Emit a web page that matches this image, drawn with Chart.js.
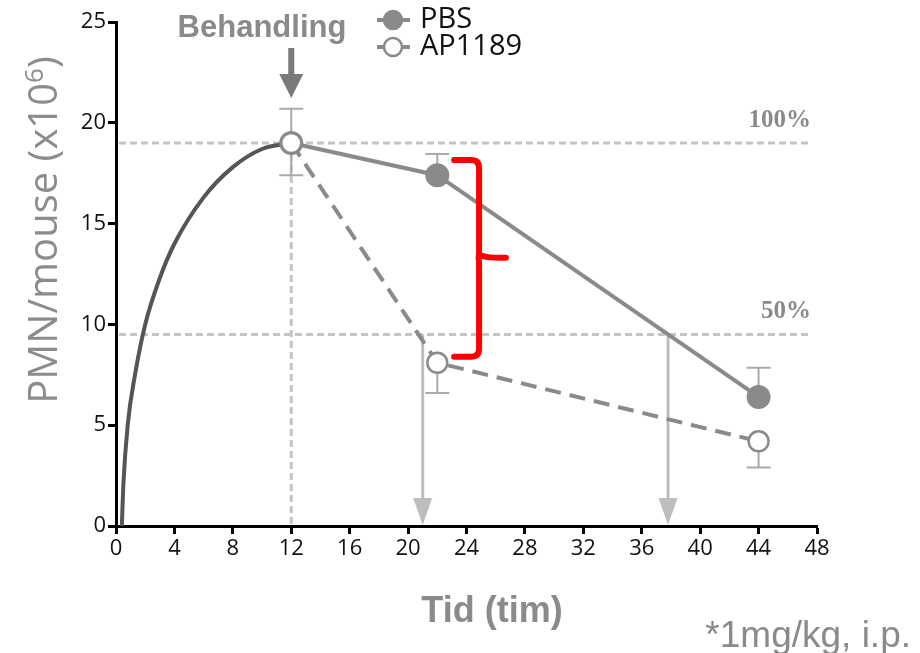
<!DOCTYPE html>
<html>
<head>
<meta charset="utf-8">
<script src="https://cdn.jsdelivr.net/npm/chart.js@4.4.1/dist/chart.umd.min.js"></script>
<style>
  html, body { margin: 0; padding: 0; background: #fff; }
  #wrap { width: 920px; height: 653px; }
</style>
</head>
<body>
<div id="wrap"><canvas id="graph" width="920" height="653"></canvas></div>
<script>
// measured points (hours after induction)
var hours = [12, 22, 44];
var pbs = [19.0, 17.4, 6.4];
var ap1189 = [19.0, 8.1, 4.2];
var pbsErr = [1.7, 1.05, 1.45];   // drawn upwards
var apErr = [1.6, 1.5, 1.3];      // drawn downwards

// untreated rise before treatment
var curveHours = [0.4, 0.5, 0.8, 1.3, 2, 3, 4, 6, 8, 10, 12];
var curveValues = [0, 2, 5, 7.5, 10, 12.3, 14, 16.3, 17.8, 18.7, 19];

var refLevels = [19, 9.5];
var refLabels = ["100%", "50%"];
var halfTimes = [21, 37.8];
var treatAt = 12;

var tickFont = "'Open Sans', sans-serif";
var gray = "#8a8a8a";

function pts(xs, ys) {
	return xs.map(function (x, i) { return { x: x, y: ys[i] }; });
}

function arrowDown(ctx, x, y1, y2, color, lw, hw, hh) {
	ctx.save();
	ctx.strokeStyle = color;
	ctx.fillStyle = color;
	ctx.lineWidth = lw;
	ctx.beginPath();
	ctx.moveTo(x, y1);
	ctx.lineTo(x, y2 - hh + 2);
	ctx.stroke();
	ctx.beginPath();
	ctx.moveTo(x - hw / 2, y2 - hh);
	ctx.lineTo(x + hw / 2, y2 - hh);
	ctx.lineTo(x, y2);
	ctx.closePath();
	ctx.fill();
	ctx.restore();
}

var extras = {
	id: "extras",
	beforeDatasetsDraw: function (chart) {
		var ctx = chart.ctx, xs = chart.scales.x, ys = chart.scales.y;
		var area = chart.chartArea;
		ctx.save();
		// reference levels
		ctx.strokeStyle = "#c4c4c4";
		ctx.lineWidth = 3;
		ctx.setLineDash([7, 4]);
		refLevels.forEach(function (v) {
			var y = ys.getPixelForValue(v);
			ctx.beginPath();
			ctx.moveTo(area.left + 3, y);
			ctx.lineTo(810, y);
			ctx.stroke();
		});
		// treatment time
		ctx.beginPath();
		ctx.moveTo(xs.getPixelForValue(treatAt), ys.getPixelForValue(refLevels[0]));
		ctx.lineTo(xs.getPixelForValue(treatAt), ys.getPixelForValue(0));
		ctx.stroke();
		ctx.setLineDash([]);
		ctx.restore();

		// half-time arrows
		halfTimes.forEach(function (h) {
			arrowDown(ctx, xs.getPixelForValue(h), ys.getPixelForValue(refLevels[1]),
				ys.getPixelForValue(0) - 1, "#bdbdbd", 3, 19, 27);
		});

		// error bars
		ctx.save();
		ctx.strokeStyle = "#aaaaaa";
		ctx.lineWidth = 2;
		function bar(x, v, e) {
			var px = xs.getPixelForValue(x);
			var y0 = ys.getPixelForValue(v), y1 = ys.getPixelForValue(v + e);
			ctx.beginPath();
			ctx.moveTo(px, y0);
			ctx.lineTo(px, y1);
			ctx.moveTo(px - 12, y1);
			ctx.lineTo(px + 12, y1);
			ctx.stroke();
		}
		hours.forEach(function (h, i) {
			bar(h, pbs[i], pbsErr[i]);
			bar(h, ap1189[i], -apErr[i]);
		});
		ctx.restore();
	},
	afterDatasetsDraw: function (chart) {
		var ctx = chart.ctx, xs = chart.scales.x, ys = chart.scales.y;
		ctx.save();

		// level labels
		ctx.fillStyle = gray;
		ctx.font = "bold 25px 'Liberation Serif', serif";
		ctx.textAlign = "right";
		ctx.textBaseline = "bottom";
		refLevels.forEach(function (v, i) {
			ctx.fillText(refLabels[i], 811, ys.getPixelForValue(v) - 10);
		});

		// treatment marker
		var tx = xs.getPixelForValue(treatAt);
		arrowDown(ctx, tx, 48, 98, "#7a7a7a", 6, 24, 24);
		ctx.fillStyle = gray;
		ctx.font = "bold 31px 'Liberation Sans', Arial, sans-serif";
		ctx.textAlign = "center";
		ctx.textBaseline = "alphabetic";
		ctx.fillText("Behandling", 262, 37);

		// legend
		var items = [
			{ label: "PBS", fill: gray, y: 20 },
			{ label: "AP1189", fill: "#fff", y: 47 }
		];
		items.forEach(function (it) {
			ctx.strokeStyle = gray;
			ctx.lineWidth = 4;
			ctx.beginPath();
			ctx.moveTo(377, it.y);
			ctx.lineTo(410, it.y);
			ctx.stroke();
			ctx.beginPath();
			ctx.arc(393, it.y, 9, 0, Math.PI * 2);
			ctx.fillStyle = it.fill;
			ctx.fill();
			ctx.lineWidth = 2.5;
			ctx.stroke();
			ctx.fillStyle = "#111";
			ctx.font = "29px " + tickFont;
			ctx.textAlign = "left";
			ctx.textBaseline = "middle";
			ctx.fillText(it.label, 420, it.y);
		});

		// red bracket
		var bl = xs.getPixelForValue(23.15), bv = xs.getPixelForValue(24.86), bt = xs.getPixelForValue(26.7);
		var yt = ys.getPixelForValue(18.15), ym = ys.getPixelForValue(13.3), yb = ys.getPixelForValue(8.4);
		ctx.strokeStyle = "#ff0000";
		ctx.lineWidth = 6;
		ctx.lineCap = "round";
		ctx.lineJoin = "round";
		ctx.beginPath();
		ctx.moveTo(bl, yt);
		ctx.lineTo(bv - 8, yt);
		ctx.quadraticCurveTo(bv, yt, bv, yt + 8);
		ctx.lineTo(bv, ym - 4);
		ctx.quadraticCurveTo(bv + 1, ym, bt, ym);
		ctx.moveTo(bv, ym - 4);
		ctx.quadraticCurveTo(bv - 1, ym, bv, ym + 4);
		ctx.lineTo(bv, yb - 8);
		ctx.quadraticCurveTo(bv, yb, bv - 8, yb);
		ctx.lineTo(bl, yb);
		ctx.stroke();

		// titles
		ctx.fillStyle = gray;
		ctx.font = "bold 36px 'Liberation Sans', Arial, sans-serif";
		ctx.textAlign = "center";
		ctx.textBaseline = "alphabetic";
		ctx.fillText("Tid (tim)", 492, 622);

		ctx.font = "37px 'Liberation Sans', Arial, sans-serif";
		ctx.textAlign = "right";
		ctx.fillText("*1mg/kg, i.p.", 911, 647);

		// y title with superscript
		ctx.translate(57, 230);
		ctx.rotate(-Math.PI / 2);
		var mainFont = "40px 'Open Sans', sans-serif";
		var supFont = "26px 'Open Sans', sans-serif";
		var p1 = "PMN/mouse (x10", p2 = "6", p3 = ")";
		ctx.font = mainFont;
		var w1 = ctx.measureText(p1).width, w3 = ctx.measureText(p3).width;
		ctx.font = supFont;
		var w2 = ctx.measureText(p2).width;
		var x0 = -(w1 + w2 + w3) / 2;
		ctx.textAlign = "left";
		ctx.fillStyle = "#8c8c8c";
		ctx.font = mainFont;
		ctx.fillText(p1, x0, 0);
		ctx.font = supFont;
		ctx.fillText(p2, x0 + w1, -14);
		ctx.font = mainFont;
		ctx.fillText(p3, x0 + w1 + w2, 0);
		ctx.restore();
	}
};

var ctx = document.getElementById("graph");
var graph = new Chart(ctx, {
	type: "line",
	data: {
		datasets: [{
			label: "AP1189",
			data: pts(hours, ap1189),
			borderColor: gray,
			borderWidth: 4,
			borderDash: [16, 9],
			pointRadius: 10,
			pointBackgroundColor: "#fff",
			pointBorderColor: gray,
			pointBorderWidth: 2.5,
			tension: 0,
			order: 0,
		}, {
			label: "PBS",
			data: pts(hours, pbs),
			borderColor: gray,
			borderWidth: 4,
			pointRadius: 10,
			pointBackgroundColor: gray,
			pointBorderColor: gray,
			tension: 0,
			order: 1,
		}, {
			label: "rise",
			data: pts(curveHours, curveValues),
			borderColor: "#555",
			borderWidth: 4,
			pointRadius: 0,
			cubicInterpolationMode: "monotone",
			order: 2,
		}]
	},
	options: {
		responsive: false,
		animation: false,
		devicePixelRatio: 1,
		layout: { padding: { left: 0, right: 103, top: 22, bottom: 82 } },
		plugins: { legend: { display: false }, tooltip: { enabled: false } },
		scales: {
			x: {
				type: "linear",
				min: 0, max: 48,
				ticks: { stepSize: 4, color: "#111", font: { family: tickFont, size: 22 }, padding: 2, maxRotation: 0 },
				grid: { drawOnChartArea: false, drawTicks: true, tickLength: 8, tickWidth: 3, tickColor: "#000" },
				border: { color: "#000", width: 3 },
				afterFit: function (s) { s.height = 45; }
			},
			y: {
				min: 0, max: 25,
				ticks: { stepSize: 5, color: "#111", font: { family: tickFont, size: 22 }, padding: 2 },
				grid: { drawOnChartArea: false, drawTicks: true, tickLength: 8, tickWidth: 3, tickColor: "#000" },
				border: { color: "#000", width: 3 },
				afterFit: function (s) { s.width = 116; }
			}
		}
	},
	plugins: [extras]
});
</script>
</body>
</html>
